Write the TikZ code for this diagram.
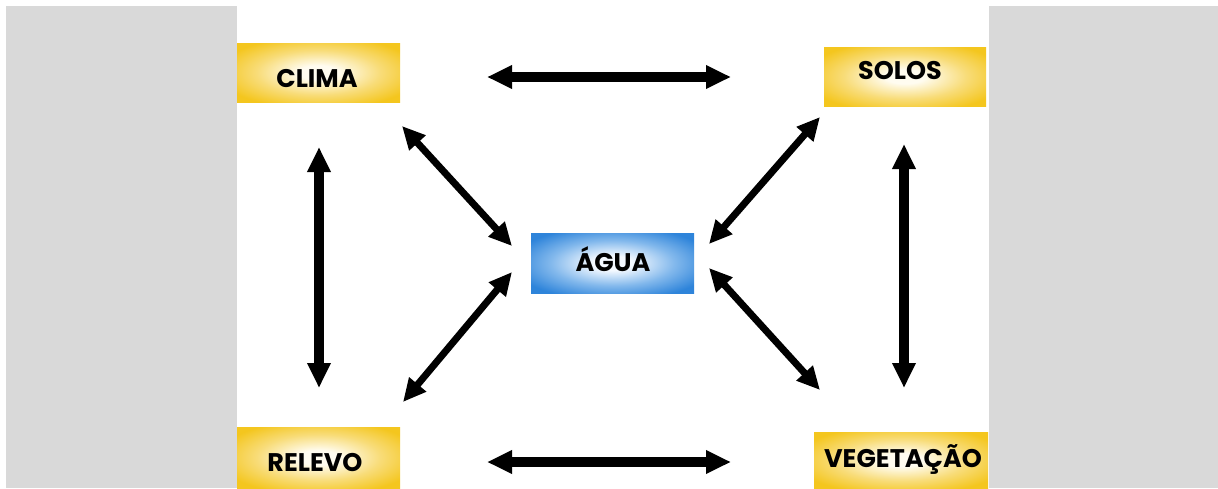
\documentclass[tikz,border=0pt]{standalone}
\usepackage{fontspec}
\setmainfont{Poppins}
\usetikzlibrary{arrows.meta}
\definecolor{side}{HTML}{D9D9D9}
\definecolor{gold}{HTML}{F4C61E}
\definecolor{goldm}{HTML}{F8DC78}
\definecolor{goldc}{HTML}{FFFCF0}
\definecolor{bluee}{HTML}{2E84DA}
\definecolor{bluem}{HTML}{82B8EC}
\definecolor{bluec}{HTML}{F4F9FF}
\pgfdeclareradialshading{yshade}{\pgfpoint{0bp}{0bp}}{color(0bp)=(goldc); color(6bp)=(goldc); color(19bp)=(goldm); color(31bp)=(gold); color(50bp)=(gold)}
\pgfdeclareradialshading{bshade}{\pgfpoint{0bp}{0bp}}{color(0bp)=(bluec); color(6bp)=(bluec); color(19bp)=(bluem); color(31bp)=(bluee); color(50bp)=(bluee)}
\tikzset{
  ybox/.style={rectangle, inner sep=0pt, draw=none, shading=yshade},
  bbox/.style={rectangle, inner sep=0pt, draw=none, shading=bshade},
  lbl/.style={anchor=base, inner sep=0pt, font=\fontsize{25.5}{25.5}\selectfont\bfseries},
  bigarrow/.style={line width=10pt, {Triangle[length=25pt,width=22pt]}-{Triangle[length=25pt,width=22pt]}},
  diagarrow/.style={line width=7pt, {Triangle[length=23pt,width=21pt]}-{Triangle[length=23pt,width=21pt]}}
}
\begin{document}
\begin{tikzpicture}[x=1pt,y=-1pt]
\useasboundingbox (0,0) rectangle (1218,488);
\fill[white] (0,0) rectangle (1218,488);
\fill[side] (6,6) rectangle (237,488);
\fill[side] (989,6) rectangle (1218,488);
% boxes
\node[ybox, minimum width=163pt, minimum height=59pt] (clima) at (318.5,72.5) {};
\node[ybox, minimum width=162pt, minimum height=59pt] (solos) at (905,76.5) {};
\node[bbox, minimum width=163pt, minimum height=60pt] (agua) at (612.5,263) {};
\node[ybox, minimum width=163pt, minimum height=61pt] (relevo) at (318.5,457.5) {};
\node[ybox, minimum width=174pt, minimum height=56pt] (veg) at (901,460) {};
% labels
\node[lbl] (tclima) at (317,87) {CLIMA};
\node[lbl] (tsolos) at (900,79) {SOLOS};
\node[lbl] (tagua) at (613,271) {ÁGUA};
\node[lbl] (trelevo) at (315,471) {RELEVO};
\node[lbl] (tveg) at (903,467) {VEGETAÇÃO};
% arrow end points
\coordinate (t1) at (487,77); \coordinate (t2) at (731,77);
\coordinate (b1) at (487,462); \coordinate (b2) at (731,462);
\coordinate (l1) at (319,147); \coordinate (l2) at (319,388);
\coordinate (r1) at (904,144); \coordinate (r2) at (904,388);
\coordinate (d1a) at (402,126); \coordinate (d1b) at (512,246);
\coordinate (d2a) at (820,117); \coordinate (d2b) at (709,244);
\coordinate (d3a) at (403,402); \coordinate (d3b) at (512,272);
\coordinate (d4a) at (709,268); \coordinate (d4b) at (820,390);
\draw[bigarrow] (t1) -- (t2);
\draw[bigarrow] (b1) -- (b2);
\draw[bigarrow] (l1) -- (l2);
\draw[bigarrow] (r1) -- (r2);
\draw[diagarrow] (d1a) -- (d1b);
\draw[diagarrow] (d2a) -- (d2b);
\draw[diagarrow] (d3a) -- (d3b);
\draw[diagarrow] (d4a) -- (d4b);
\end{tikzpicture}
\end{document}
